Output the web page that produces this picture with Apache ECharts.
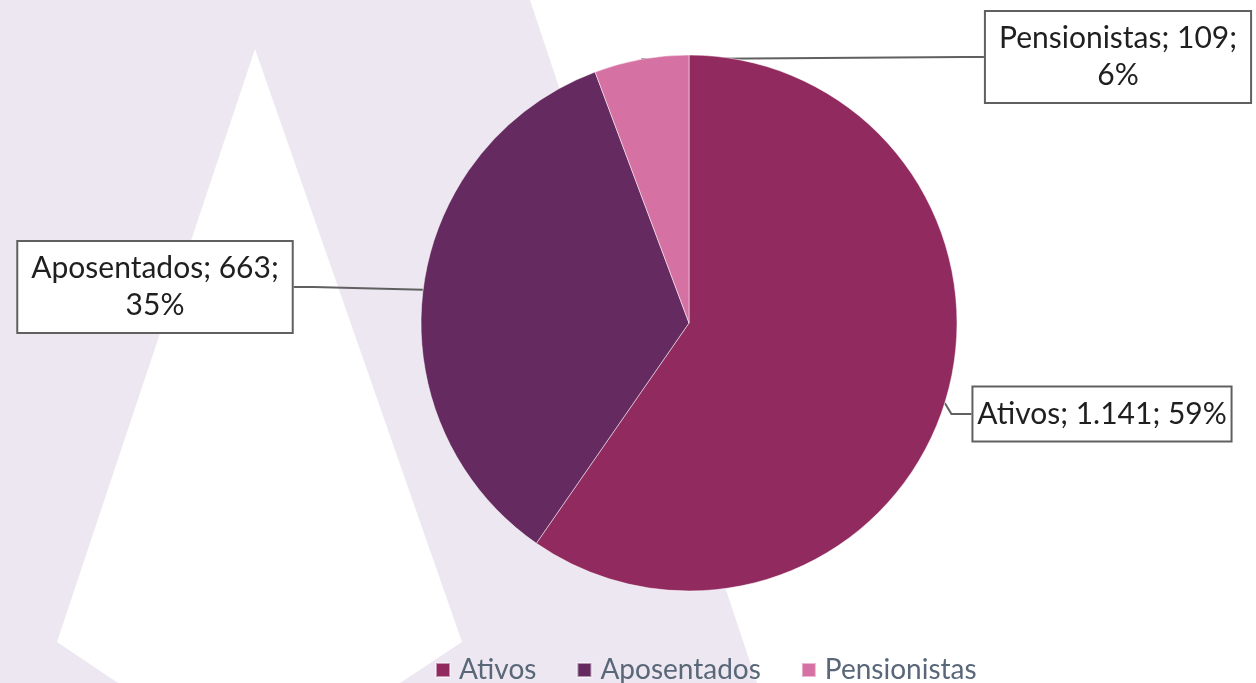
<!DOCTYPE html>
<html>
<head>
<meta charset="utf-8">
<script src="https://cdn.jsdelivr.net/npm/echarts@6/dist/echarts.min.js"></script>
<style>
  html, body { margin: 0; padding: 0; background: #fff; }
  #chart { width: 1256px; height: 683px; }
</style>
</head>
<body>
<div id="chart"></div>
<script>
// dados
var categorias = ['Ativos', 'Aposentados', 'Pensionistas'];
var valores = [1141, 663, 109];
var cores = ['#912a5e', '#652a5f', '#d571a3'];

// posicao das caixas de rotulo (centro) e quebra de linha
var rotuloPos = [[1102, 414], [155, 287], [1118, 57]];
var quebra = [false, true, true];

function fmtNum(n) {
    return String(n).replace(/\B(?=(\d{3})+(?!\d))/g, '.');
}

var fonte = 'Lato, "Open Sans", sans-serif';

var dados = categorias.map(function (c, i) {
    return {
        name: c,
        value: valores[i],
        itemStyle: { color: cores[i] }
    };
});

var chart = echarts.init(document.getElementById('chart'));
var option = {
    backgroundColor: '#ffffff',
    animation: false,
    graphic: [
        {
            type: 'polygon', z: -10, silent: true,
            shape: { points: [[0, 0], [530, 0], [757, 683], [0, 683]] },
            style: { fill: '#ede7f1' }
        },
        {
            type: 'polygon', z: -9, silent: true,
            shape: { points: [[255, 49], [57, 642], [118, 683], [400, 683], [462, 642]] },
            style: { fill: '#ffffff' }
        }
    ],
    legend: {
        data: categorias,
        left: 430,
        top: 651,
        icon: 'rect',
        itemWidth: 14,
        itemHeight: 14,
        itemGap: 40,
        textStyle: { fontFamily: fonte, fontSize: 28, color: '#596779', padding: [0, 0, 0, 4] }
    },
    series: [
        {
            type: 'pie',
            center: [689, 323],
            radius: 268,
            startAngle: 90,
            clockwise: true,
            percentPrecision: 0,
            itemStyle: { borderColor: 'rgba(255,255,255,0.5)', borderWidth: 1 },
            label: {
                show: true,
                position: 'outside',
                overflow: 'none',
                formatter: function (p) {
                    var sep = quebra[p.dataIndex] ? '\n' : ' ';
                    return p.name + '; ' + fmtNum(p.value) + ';' + sep + p.percent + '%';
                },
                fontFamily: fonte,
                fontSize: 30,
                lineHeight: 37,
                color: '#1f1f1f',
                align: 'center',
                backgroundColor: '#ffffff',
                borderColor: '#606060',
                borderWidth: 2,
                padding: [8, 13, 8, 13]
            },
            labelLine: {
                show: true,
                length: 20,
                length2: 20,
                lineStyle: { color: '#606060', width: 2 }
            },
            labelLayout: function (params) {
                var pos = rotuloPos[params.dataIndex];
                return {
                    x: pos[0],
                    y: pos[1],
                    align: 'center',
                    verticalAlign: 'middle'
                };
            },
            emphasis: { disabled: true },
            data: dados
        }
    ]
};
chart.setOption(option);
</script>
</body>
</html>
